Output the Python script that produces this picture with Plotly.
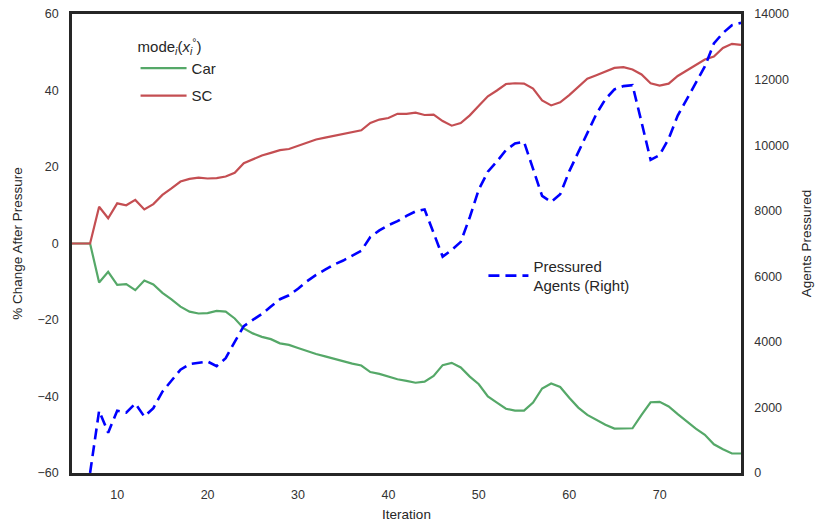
import plotly.graph_objects as go

# Iterations and series values
iterations = list(range(5, 80))

car_pct = [0, 0, 0, -10.2, -7.4, -10.8, -10.6, -12.2, -9.7, -10.7,
           -12.9, -14.6, -16.5, -17.8, -18.3, -18.2, -17.6, -17.8, -19.6, -22.2,
           -23.5, -24.4, -25.0, -26.1, -26.5, -27.3, -28.2, -28.9, -29.5, -30.2,
           -30.8, -31.4, -31.9, -33.6, -34.1, -34.8, -35.5, -35.9, -36.4, -36.1,
           -34.6, -31.8, -31.2, -32.4, -34.8, -36.8, -40.0, -41.6, -43.2, -43.7,
           -43.7, -41.6, -37.9, -36.6, -37.5, -40.3, -42.9, -44.8, -46.1, -47.4,
           -48.4, -48.4, -48.3, -44.8, -41.5, -41.4, -42.6, -44.6, -46.6, -48.4,
           -50.0, -52.5, -53.8, -54.9, -54.9]

sc_pct = [0, 0, 0, 9.6, 6.6, 10.5, 10.0, 11.4, 8.9, 10.3,
          12.7, 14.4, 16.2, 16.9, 17.2, 17.0, 17.1, 17.5, 18.5, 21.0,
          22.0, 23.0, 23.7, 24.4, 24.7, 25.5, 26.4, 27.2, 27.7, 28.2,
          28.7, 29.2, 29.6, 31.5, 32.4, 32.8, 33.9, 33.9, 34.2, 33.6,
          33.7, 32.0, 30.8, 31.5, 33.5, 36.0, 38.5, 40.0, 41.7, 41.9,
          41.8, 40.5, 37.4, 36.1, 36.9, 38.8, 41.0, 43.1, 44.0, 45.0,
          45.9, 46.1, 45.5, 44.2, 41.9, 41.3, 41.8, 43.8, 45.2, 46.7,
          48.1, 48.9, 51.1, 52.2, 51.9]

pressured = [None, None, 0, 1900, 1230, 1900, 1840, 2120, 1720, 1980,
             2480, 2820, 3150, 3320, 3360, 3400, 3260, 3500, 4000, 4480,
             4670, 4850, 5080, 5300, 5420, 5620, 5850, 6040, 6200, 6360,
             6480, 6620, 6780, 7200, 7400, 7560, 7680, 7840, 7980, 8040,
             7350, 6600, 6800, 7050, 7800, 8650, 9190, 9500, 9850, 10050,
             10100, 9300, 8450, 8270, 8500, 9200, 9800, 10400, 10950, 11400,
             11700, 11800, 11830, 10700, 9550, 9700, 10200, 10900, 11400, 11900,
             12400, 13100, 13420, 13660, 13730]

x_ticks = [10, 20, 30, 40, 50, 60, 70]
left_ticks = [-60, -40, -20, 0, 20, 40, 60]
right_ticks = list(range(0, 14001, 2000))

FONT = "Liberation Sans, Arial, sans-serif"
TXT = "#262626"
SPINE = "#262626"
TICK_TXT = "#333333"

fig = go.Figure()
fig.add_trace(go.Scatter(x=iterations, y=car_pct, name="Car", mode="lines",
                         line=dict(color="#55A868", width=2.2),
                         legend="legend", legendgroup="car"))
fig.add_trace(go.Scatter(x=iterations, y=sc_pct, name="SC", mode="lines",
                         line=dict(color="#C44E52", width=2.2),
                         legend="legend", legendgroup="sc"))
fig.add_trace(go.Scatter(x=iterations, y=pressured, name="Pressured<br>Agents (Right)",
                         mode="lines", yaxis="y2",
                         line=dict(color="#0000FF", width=2.6, dash="11px,6px"),
                         legend="legend2"))

fig.update_layout(
    width=816, height=522,
    margin=dict(l=72, r=75, t=14, b=49, autoexpand=False),
    paper_bgcolor="white", plot_bgcolor="white",
    font=dict(family=FONT, color=TXT, size=13),
    xaxis=dict(range=[5, 79], tickvals=x_ticks, showgrid=False, zeroline=False,
               showline=True, linecolor=SPINE, linewidth=2.5, mirror=True,
               ticks="", ticklabelstandoff=8, automargin=False,
               tickfont=dict(size=12.5, color=TICK_TXT),
               title=dict(text="Iteration", font=dict(size=13.5), standoff=10)),
    yaxis=dict(range=[-60, 60], tickvals=left_ticks, showgrid=False, zeroline=False,
               showline=True, linecolor=SPINE, linewidth=2.5,
               ticks="", ticklabelstandoff=8, automargin=False,
               tickfont=dict(size=12.5, color=TICK_TXT),
               title=dict(text="% Change After Pressure", font=dict(size=13.5), standoff=12)),
    yaxis2=dict(range=[0, 14000], tickvals=right_ticks,
                ticktext=[str(v) for v in right_ticks],
                overlaying="y", side="right", automargin=False,
                showgrid=False, zeroline=False, showline=True, linecolor=SPINE,
                linewidth=2.5, ticks="", ticklabelstandoff=8,
                tickfont=dict(size=12.5, color=TICK_TXT),
                title=dict(text="Agents Pressured", font=dict(size=13.5), standoff=14)),
    legend=dict(x=0.095, y=0.96, xanchor="left", yanchor="top",
                bgcolor="rgba(0,0,0,0)", font=dict(size=15, color=TXT),
                title=dict(text="mode<sub><i>i</i></sub>(<i>x</i><sub><i>i</i></sub><sup>°</sup>)",
                           font=dict(size=15, color=TXT)),
                itemwidth=46, tracegroupgap=5),
    legend2=dict(x=0.615, y=0.43, xanchor="left", yanchor="middle",
                 bgcolor="rgba(0,0,0,0)", font=dict(size=15, color=TXT),
                 itemwidth=40),
    showlegend=True,
)

fig.write_html("out.html")
